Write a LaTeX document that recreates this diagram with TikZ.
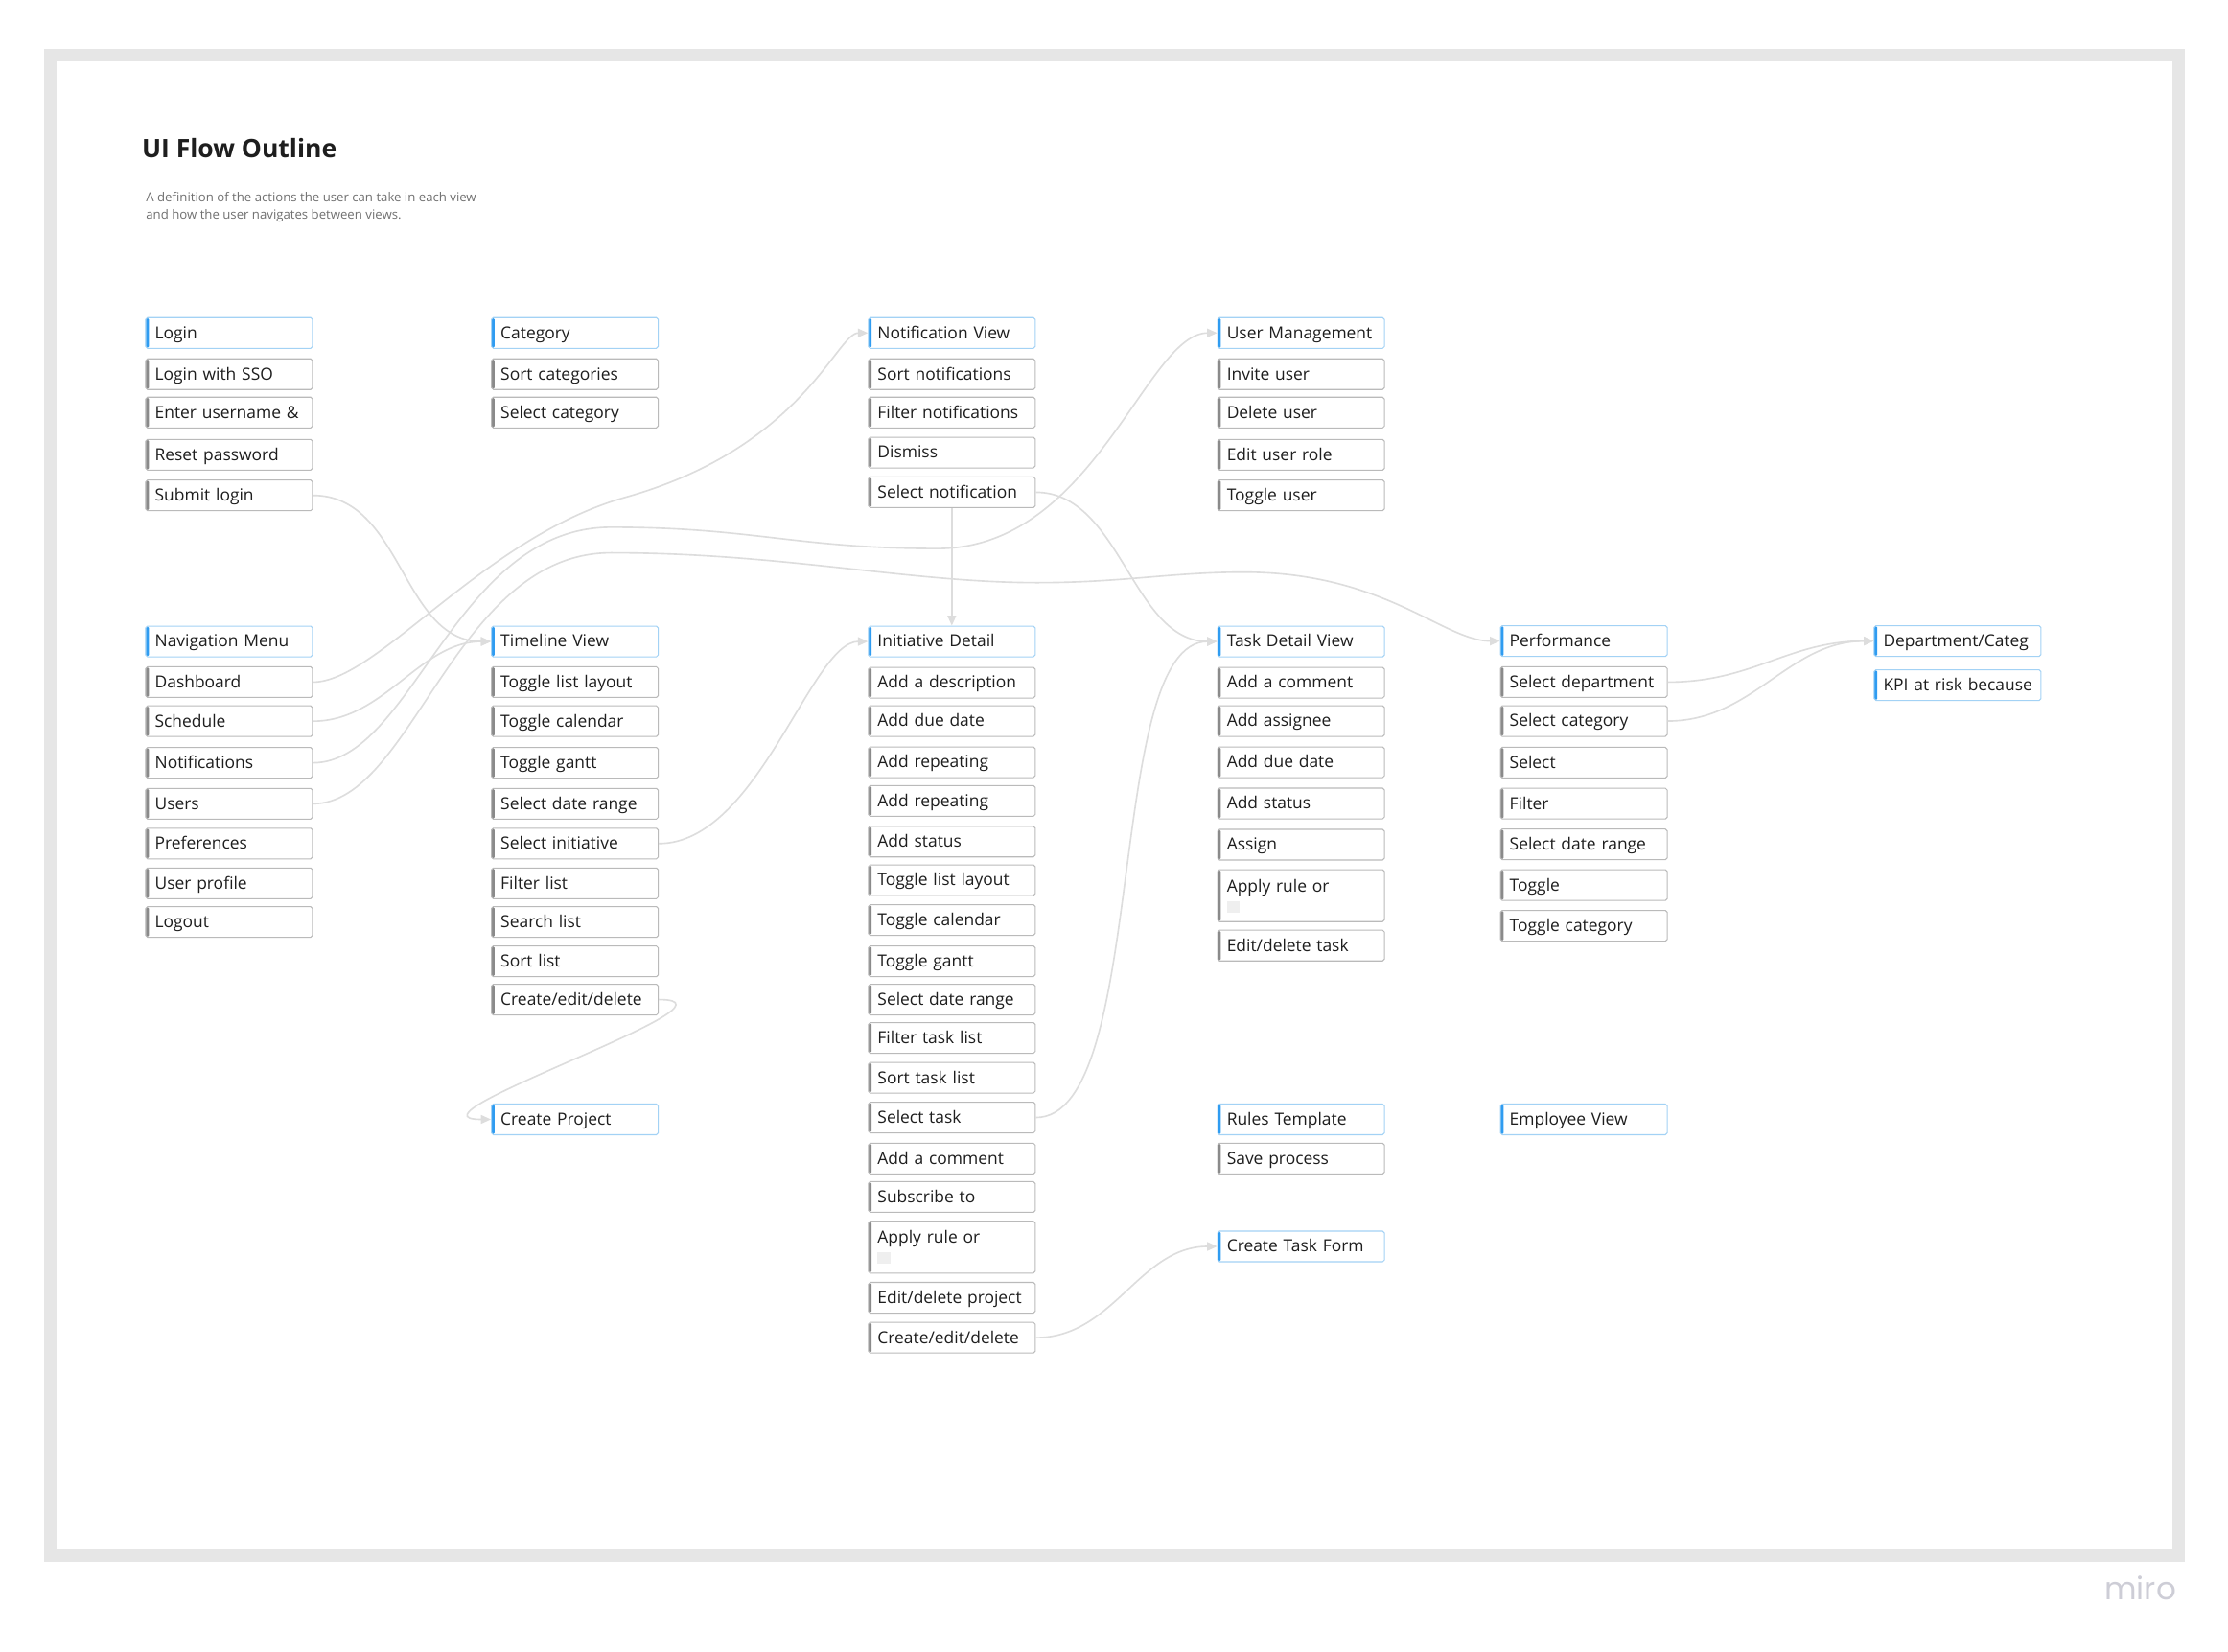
\documentclass[tikz,border=0pt]{standalone}
\usepackage{fontspec}
\setmainfont{Open Sans}
\newfontfamily\logofont{Poppins}
\usetikzlibrary{arrows.meta}

\definecolor{framegray}{HTML}{E6E6E6}
\definecolor{txt}{HTML}{1E1E1E}
\definecolor{subtxt}{HTML}{707070}
\definecolor{blueline}{HTML}{A3D2F5}
\definecolor{bluebar}{HTML}{2F9CF1}
\definecolor{grayline}{HTML}{BABABA}
\definecolor{graybar}{HTML}{8A8A8A}
\definecolor{conn}{HTML}{DDDDDD}
\definecolor{sqgray}{HTML}{EFEFEF}
\definecolor{logogray}{HTML}{CDCDD6}

% thick coloured strip along the left edge of a box
\newcommand\boxbar[1]{\fill[#1] (path picture bounding box.south west) rectangle ([xshift=2.2pt]path picture bounding box.north west);}

\begin{document}
\begin{tikzpicture}[x=1pt,y=-1pt,
  boxbase/.style={draw, rounded corners=1.3pt, line width=0.7pt, fill=white,
    minimum width=117.4pt, minimum height=21.6pt, inner xsep=6.5pt, inner ysep=0pt,
    text width=104.4pt, align=left, anchor=west, text=txt,
    font=\fontsize{11.75}{14}\selectfont},
  oneline/.style={text height=9.5pt, text depth=1.5pt,
    execute at begin node=\hbox\bgroup, execute at end node=\egroup},
  hdr/.style={boxbase, oneline, draw=blueline, path picture={\boxbar{bluebar}}},
  act/.style={boxbase, oneline, draw=grayline, path picture={\boxbar{graybar}}},
  tallact/.style={boxbase, draw=grayline, minimum height=36.5pt, path picture={\boxbar{graybar}}},
  link/.style={draw=conn, line width=1.1pt, -{Triangle[length=7pt,width=6pt]}},
  plain/.style={inner sep=0pt, anchor=base west}
]
\useasboundingbox (0,0) rectangle (1568,1162);
\fill[white] (0,0) rectangle (1568,1162);
\draw[framegray, line width=8.7pt] (35.55,39.05) rectangle (1533.3,1094.7);

% heading
\node[plain, text=txt, font=\bfseries\fontsize{17.9}{20}\selectfont] (title) at (99.7,111.3) {UI Flow Outline};
\node[plain, text=subtxt, font=\fontsize{8.9}{12.5}\selectfont] (sub1) at (102.6,141.8) {A definition of the actions the user can take in each view};
\node[plain, text=subtxt, font=\fontsize{8.9}{12.5}\selectfont] (sub2) at (102.6,154.3) {and how the user navigates between views.};

% login
\node[hdr] (login) at (102.2,234.3) {Login};
\node[act] (sso) at (102.2,263.3) {Login with SSO};
\node[act] (enteru) at (102.2,290.3) {Enter username \&};
\node[act] (resetpw) at (102.2,320.0) {Reset password};
\node[act] (sublogin) at (102.2,348.6) {Submit login};

% category
\node[hdr] (cat) at (345.5,234.3) {Category};
\node[act] (sortcat) at (345.5,263.3) {Sort categories};
\node[act] (selcat) at (345.5,290.3) {Select category};

% notification view
\node[hdr] (nv) at (610.8,234.3) {Notification View};
\node[act] (sortnot) at (610.8,263.3) {Sort notifications};
\node[act] (filtnot) at (610.8,290.3) {Filter notifications};
\node[act] (dismiss) at (610.8,318.5) {Dismiss};
\node[act] (selnot) at (610.8,346.4) {Select notification};

% user management
\node[hdr] (um) at (856.6,234.3) {User Management};
\node[act] (invite) at (856.6,263.3) {Invite user};
\node[act] (deluser) at (856.6,290.3) {Delete user};
\node[act] (editrole) at (856.6,320.0) {Edit user role};
\node[act] (toguser) at (856.6,348.6) {Toggle user};

% navigation menu
\node[hdr] (nav) at (102.2,451.4) {Navigation Menu};
\node[act] (dash) at (102.2,480.0) {Dashboard};
\node[act] (sched) at (102.2,507.5) {Schedule};
\node[act] (notifs) at (102.2,536.8) {Notifications};
\node[act] (users) at (102.2,565.6) {Users};
\node[act] (prefs) at (102.2,593.6) {Preferences};
\node[act] (profile) at (102.2,621.6) {User profile};
\node[act] (logout) at (102.2,648.8) {Logout};

% timeline view
\node[hdr] (tl) at (345.5,451.4) {Timeline View};
\node[act] (tlist) at (345.5,480.0) {Toggle list layout};
\node[act] (tcal) at (345.5,507.5) {Toggle calendar};
\node[act] (tgantt) at (345.5,536.8) {Toggle gantt};
\node[act] (tdate) at (345.5,565.6) {Select date range};
\node[act] (selinit) at (345.5,593.6) {Select initiative};
\node[act] (filtlist) at (345.5,621.6) {Filter list};
\node[act] (searchlist) at (345.5,648.8) {Search list};
\node[act] (sortlist) at (345.5,676.5) {Sort list};
\node[act] (tcreate) at (345.5,703.4) {Create/edit/delete};
\node[hdr] (cproj) at (345.5,787.7) {Create Project};

% initiative detail
\node[hdr] (idet) at (610.8,451.4) {Initiative Detail};
\node[act] (idesc) at (610.8,480.4) {Add a description};
\node[act] (idue) at (610.8,507.4) {Add due date};
\node[act] (irep1) at (610.8,536.4) {Add repeating};
\node[act] (irep2) at (610.8,563.6) {Add repeating};
\node[act] (istat) at (610.8,592.2) {Add status};
\node[act] (ilist) at (610.8,619.4) {Toggle list layout};
\node[act] (ical) at (610.8,647.4) {Toggle calendar};
\node[act] (igantt) at (610.8,676.4) {Toggle gantt};
\node[act] (idate) at (610.8,703.4) {Select date range};
\node[act] (ifilt) at (610.8,730.4) {Filter task list};
\node[act] (isort) at (610.8,758.4) {Sort task list};
\node[act] (seltask) at (610.8,786.4) {Select task};
\node[act] (icomm) at (610.8,815.3) {Add a comment};
\node[act] (isub) at (610.8,842.3) {Subscribe to};
\node[tallact] (iapply) at (610.8,877.6) {Apply rule or\\[0.5pt]{\color{sqgray}\rule{9pt}{8pt}}};
\node[act] (iedit) at (610.8,913.2) {Edit/delete project};
\node[act] (icreate) at (610.8,941.3) {Create/edit/delete};

% task detail view
\node[hdr] (tdv) at (856.6,451.4) {Task Detail View};
\node[act] (tcomm) at (856.6,480.4) {Add a comment};
\node[act] (tassignee) at (856.6,507.4) {Add assignee};
\node[act] (tdue) at (856.6,536.4) {Add due date};
\node[act] (tstat) at (856.6,565.4) {Add status};
\node[act] (tassign) at (856.6,594.4) {Assign};
\node[tallact] (tapply) at (856.6,630.3) {Apply rule or\\[0.5pt]{\color{sqgray}\rule{9pt}{8pt}}};
\node[act] (tedit) at (856.6,665.4) {Edit/delete task};
\node[hdr] (rules) at (856.6,787.7) {Rules Template};
\node[act] (save) at (856.6,815.3) {Save process};
\node[hdr] (ctf) at (856.6,877.1) {Create Task Form};

% performance
\node[hdr] (perf) at (1055.6,451.1) {Performance};
\node[act] (pdept) at (1055.6,480.0) {Select department};
\node[act] (pcat) at (1055.6,507.4) {Select category};
\node[act] (psel) at (1055.6,536.7) {Select};
\node[act] (pfilt) at (1055.6,565.5) {Filter};
\node[act] (pdate) at (1055.6,594.2) {Select date range};
\node[act] (ptog) at (1055.6,622.8) {Toggle};
\node[act] (ptogcat) at (1055.6,651.5) {Toggle category};
\node[hdr] (emp) at (1055.6,787.7) {Employee View};

% department / category
\node[hdr] (deptcat) at (1318.6,451.1) {Department/Categ};
\node[hdr] (kpi) at (1318.6,482.1) {KPI at risk because};

% connectors
\draw[link] (sublogin.east) .. controls +(63,0) and +(-63,0) .. (tl.west);
\draw[link] (sched.east) .. controls +(50,0) and +(-50,0) .. (tl.west);

\coordinate (nva) at (440,350);
\draw[link] (dash.east) .. controls +(45,0) and (340,378) .. (nva)
  .. controls (565,315) and +(-22,0) .. (nv.west);

\coordinate (ua1) at (430,371);
\coordinate (ua2) at (660,386);
\draw[link] (notifs.east) .. controls +(70,0) and +(-110,0) .. (ua1)
  .. controls +(100,0) and +(-100,0) .. (ua2)
  .. controls +(110,0) and +(-50,0) .. (um.west);

\coordinate (pb1) at (430,389);
\coordinate (pb2) at (730,410);
\coordinate (pb3) at (875,402.6);
\draw[link] (users.east) .. controls +(70,0) and +(-110,0) .. (pb1)
  .. controls +(120,0) and +(-90,0) .. (pb2)
  .. controls +(60,0) and +(-50,0) .. (pb3)
  .. controls +(100,0) and +(-40,0) .. (perf.west);

\draw[link] (selnot.east) .. controls +(60,0) and +(-60,0) .. (tdv.west);
\draw[link] (selnot.south) -- (idet.north);
\draw[link] (selinit.east) .. controls +(70,0) and +(-40,0) .. (idet.west);
\draw[link] (tcreate.east) .. controls +(70,0) and +(-70,0) .. (cproj.west);
\draw[link] (seltask.east) .. controls +(80,0) and +(-80,0) .. (tdv.west);
\draw[link] (icreate.east) .. controls +(55,0) and +(-55,0) .. (ctf.west);
\draw[link] (pdept.east) .. controls +(60,0) and +(-60,0) .. (deptcat.west);
\draw[link] (pcat.east) .. controls +(60,0) and +(-60,0) .. (deptcat.west);

% logo
\node[plain, text=logogray, font=\logofont\fontsize{22}{24}\selectfont] (logo) at (1481,1125.5) {miro};
\end{tikzpicture}
\end{document}
